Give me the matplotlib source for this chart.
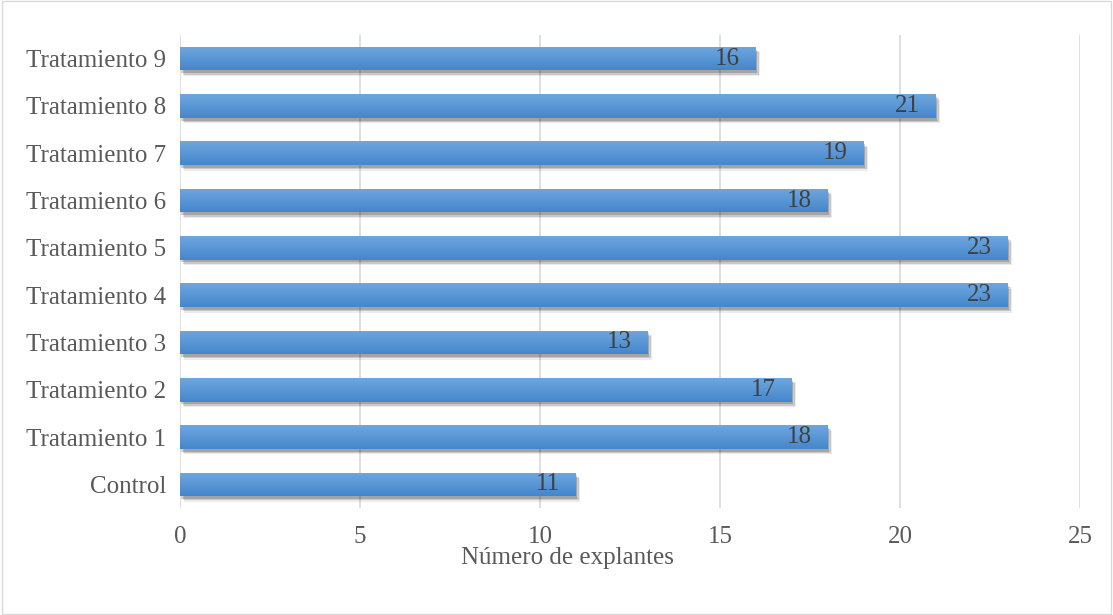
import matplotlib.pyplot as plt
import matplotlib.patheffects as pe
from matplotlib.colors import LinearSegmentedColormap
import numpy as np

# datos del gráfico
categorias = ['Control', 'Tratamiento 1', 'Tratamiento 2', 'Tratamiento 3', 'Tratamiento 4',
              'Tratamiento 5', 'Tratamiento 6', 'Tratamiento 7', 'Tratamiento 8', 'Tratamiento 9']
valores = [11, 18, 17, 13, 23, 23, 18, 19, 21, 16]
ticks_x = [0, 5, 10, 15, 20, 25]

plt.rcParams['font.family'] = ['Liberation Serif', 'DejaVu Serif']
gris = '#595959'
gris_osc = '#404040'
tam = 18

fig = plt.figure(figsize=(11.13, 6.15), dpi=100)
ax = fig.add_axes([180/1113, 1 - 508/615, 900/1113, 473/615])

y = np.arange(len(categorias))
alto = 0.5
# sombra suave debajo de las barras
sombra = [pe.SimplePatchShadow(offset=(3, -4), shadow_rgbFace='#000000', alpha=0.08),
          pe.SimplePatchShadow(offset=(2, -3), shadow_rgbFace='#000000', alpha=0.14),
          pe.SimplePatchShadow(offset=(1, -2), shadow_rgbFace='#000000', alpha=0.18),
          pe.Normal()]
barras = ax.barh(y, valores, height=alto, color='#5b9bd5', zorder=3, path_effects=sombra)

# degradado vertical en cada barra
grad = np.linspace(0, 1, 64).reshape(-1, 1)
cmap = LinearSegmentedColormap.from_list('azul', ['#4586cb', '#6ea7de'])
for b in barras:
    x0, y0 = b.get_x(), b.get_y()
    w, h = b.get_width(), b.get_height()
    im = ax.imshow(grad, extent=[x0, x0 + w, y0, y0 + h], origin='lower', cmap=cmap,
                   aspect='auto', zorder=4)
    im.set_clip_path(b)

for yi, v in zip(y, valores):
    ax.text(v - 0.45, yi, str(v), ha='right', va='center', fontsize=tam, color=gris_osc, zorder=5)

ax.set_xlim(0, 25)
ax.set_ylim(-0.5, 9.5)
ax.set_xticks(ticks_x)
ax.set_yticks(y)
ax.set_yticklabels(categorias)
ax.tick_params(axis='both', length=0, labelsize=tam, labelcolor=gris)
ax.tick_params(axis='x', pad=13)
ax.tick_params(axis='y', pad=10)
ax.grid(axis='x', color='#d9d9d9', linewidth=1.2, zorder=0)
for s in ax.spines.values():
    s.set_visible(False)

fig.text(567/1113, 1 - 558/615, 'Número de explantes', ha='center', va='center', fontsize=tam, color=gris)

# borde del gráfico
fig.patches.append(plt.Rectangle((0.002, 0.002), 0.996, 0.996, transform=fig.transFigure,
                                 fill=False, edgecolor='#d9d9d9', linewidth=1))

fig.savefig('out.png', dpi=100)
